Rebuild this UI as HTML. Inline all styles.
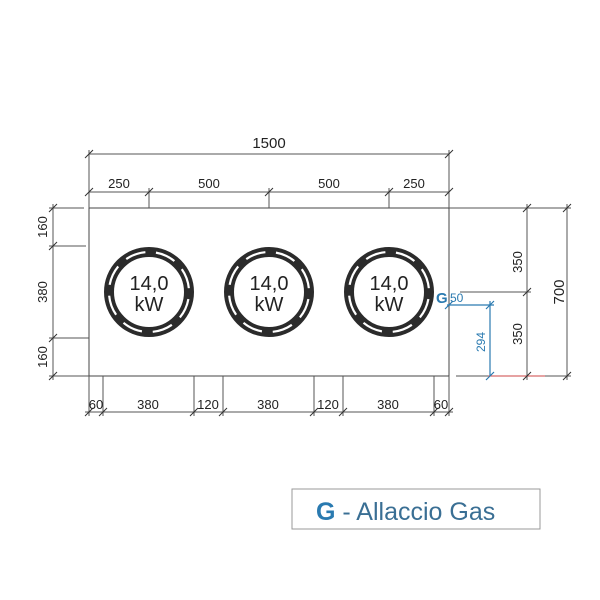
<!DOCTYPE html>
<html><head><meta charset="utf-8"><style>
html,body{margin:0;padding:0;background:#fff;}
svg{display:block;}
.d{font-family:"Liberation Sans",sans-serif;font-size:13px;fill:#222;}
</style></head><body>
<svg width="600" height="600" viewBox="0 0 600 600" xmlns="http://www.w3.org/2000/svg">
<g stroke="#555" stroke-width="1" fill="none">
  <rect x="89" y="208" width="360" height="168" stroke="#444"/>
  <line x1="89" y1="154" x2="449" y2="154"/>
  <line x1="89" y1="192" x2="449" y2="192"/>
  <line x1="89" y1="150" x2="89" y2="208"/>
  <line x1="449" y1="150" x2="449" y2="208"/>
  <line x1="149" y1="188" x2="149" y2="208"/>
  <line x1="269" y1="188" x2="269" y2="208"/>
  <line x1="389" y1="188" x2="389" y2="208"/>
  <line x1="53" y1="204" x2="53" y2="380"/>
  <line x1="49" y1="208" x2="84" y2="208"/>
  <line x1="49" y1="246" x2="86" y2="246"/>
  <line x1="49" y1="338" x2="89" y2="338"/>
  <line x1="49" y1="376" x2="89" y2="376"/>
  <line x1="85" y1="412" x2="453" y2="412"/>
  <line x1="89" y1="376" x2="89" y2="416"/>
  <line x1="103" y1="376" x2="103" y2="416"/>
  <line x1="194" y1="376" x2="194" y2="416"/>
  <line x1="223" y1="376" x2="223" y2="416"/>
  <line x1="314" y1="376" x2="314" y2="416"/>
  <line x1="343" y1="376" x2="343" y2="416"/>
  <line x1="434" y1="376" x2="434" y2="416"/>
  <line x1="449" y1="376" x2="449" y2="416"/>
  <line x1="449" y1="208" x2="571" y2="208"/>
  <line x1="527" y1="204" x2="527" y2="380"/>
  <line x1="567" y1="204" x2="567" y2="380"/>
  <line x1="460" y1="292" x2="531" y2="292"/>
  <line x1="456" y1="376" x2="571" y2="376"/>
  <line x1="488" y1="376" x2="545" y2="376" stroke="#c44"/>
  <g stroke="#333">
    <path d="M85 158l8-8M445 158l8-8M85 196l8-8M145 196l8-8M265 196l8-8M385 196l8-8M445 196l8-8"/>
    <path d="M49 212l8-8M49 250l8-8M49 342l8-8M49 380l8-8"/>
    <path d="M85 416l8-8M99 416l8-8M190 416l8-8M219 416l8-8M310 416l8-8M339 416l8-8M430 416l8-8M445 416l8-8"/>
    <path d="M523 212l8-8M523 296l8-8M523 380l8-8M563 212l8-8M563 380l8-8"/>
  </g>
</g>
<g stroke="#2a7ab0" stroke-width="1.2" fill="none">
  <line x1="447" y1="305" x2="494" y2="305"/>
  <line x1="490" y1="301" x2="490" y2="376"/>
  <path d="M445 309l8-8M486 309l8-8M486 380l8-8"/>
</g>
<text x="436" y="303" font-family="'Liberation Sans',sans-serif" font-size="15" font-weight="bold" fill="#2a7ab0">G</text>
<text x="450" y="302" font-family="'Liberation Sans',sans-serif" font-size="12" fill="#2a7ab0">50</text>
<text transform="translate(485,342) rotate(-90)" text-anchor="middle" font-family="'Liberation Sans',sans-serif" font-size="12" fill="#2a7ab0">294</text>
<g id="b">
  <circle cx="149" cy="292" r="40" fill="none" stroke="#2b2b2b" stroke-width="10"/>
  <circle cx="149" cy="292" r="40" fill="none" stroke="#fff" stroke-width="2.2" stroke-dasharray="20.5 10.9" transform="rotate(-80 149 292)"/>
</g>
<use href="#b" x="120"/>
<use href="#b" x="240"/>
<g font-family="'Liberation Sans',sans-serif" font-size="20" fill="#222" text-anchor="middle">
  <text x="149" y="290">14,0</text><text x="149" y="311">kW</text>
  <text x="269" y="290">14,0</text><text x="269" y="311">kW</text>
  <text x="389" y="290">14,0</text><text x="389" y="311">kW</text>
</g>
<g class="d" text-anchor="middle">
  <text x="269" y="148" font-size="15">1500</text>
  <text x="119" y="188">250</text>
  <text x="209" y="188">500</text>
  <text x="329" y="188">500</text>
  <text x="414" y="188">250</text>
  <text x="96" y="409">60</text>
  <text x="148" y="409">380</text>
  <text x="208" y="409">120</text>
  <text x="268" y="409">380</text>
  <text x="328" y="409">120</text>
  <text x="388" y="409">380</text>
  <text x="441" y="409">60</text>
  <text transform="translate(47,227) rotate(-90)">160</text>
  <text transform="translate(47,292) rotate(-90)">380</text>
  <text transform="translate(47,357) rotate(-90)">160</text>
  <text transform="translate(522,262) rotate(-90)">350</text>
  <text transform="translate(522,334) rotate(-90)">350</text>
  <text transform="translate(564,292) rotate(-90)" font-size="15">700</text>
</g>
<rect x="292" y="489" width="248" height="40" fill="#fff" stroke="#999"/>
<text x="316" y="520" font-family="'Liberation Sans',sans-serif" font-size="25" fill="#3a6f94"><tspan font-weight="bold" fill="#2a7ab0">G</tspan> - Allaccio Gas</text>
</svg>
</body></html>
